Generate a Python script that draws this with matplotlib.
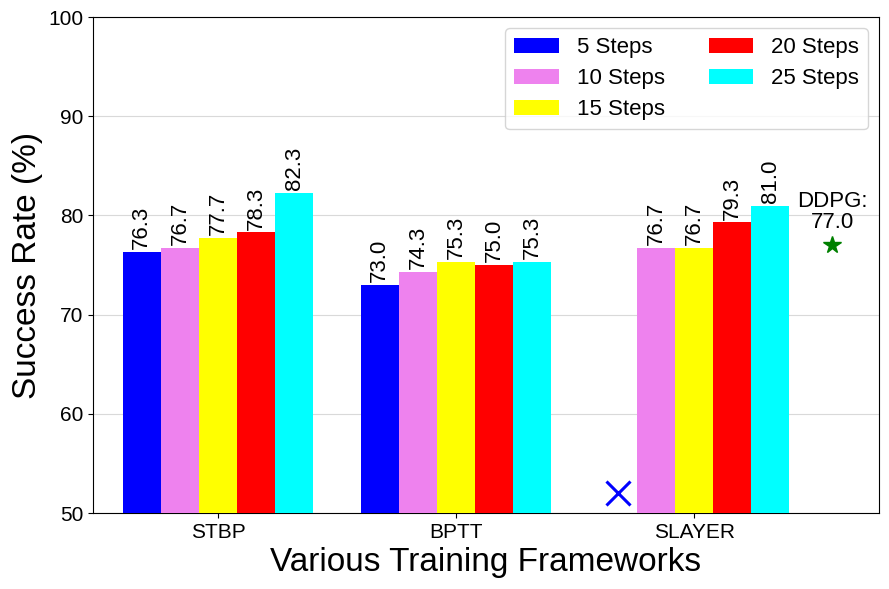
import numpy as np
import matplotlib
matplotlib.use('Agg')
import matplotlib.pyplot as plt

plt.rcParams['font.family'] = ['Liberation Sans', 'DejaVu Sans']

frameworks = ['STBP', 'BPTT', 'SLAYER']
series_labels = ['5 Steps', '10 Steps', '15 Steps', '20 Steps', '25 Steps']
colors = ['blue', 'violet', 'yellow', 'red', 'cyan']
# NaN = no result (SLAYER at 5 steps)
rates = [
	[76.3, 73.0, np.nan],
	[76.7, 74.3, 76.7],
	[77.7, 75.3, 76.7],
	[78.3, 75.0, 79.3],
	[82.3, 75.3, 81.0],
]
ddpg_rate = 77.0
missing_marker_y = 52

fig = plt.figure(figsize=(8.89, 5.89), dpi=100)
ax = fig.add_axes([0.1046, 0.129, 0.8842, 0.842])

x = np.arange(len(frameworks))
width = 0.16

for i in range(len(series_labels)):
	offs = x + (i - 2) * width
	vals = np.array(rates[i])
	ax.bar(offs, vals, width, color=colors[i], label=series_labels[i], zorder=3)
	for xx, v in zip(offs, vals):
		if np.isnan(v):
			ax.plot(xx, missing_marker_y, marker='x', color=colors[i], markersize=17,
					markeredgewidth=2.2, zorder=4)
		else:
			ax.annotate('%.1f' % v, (xx, v), xytext=(0, 2), textcoords='offset points',
						ha='center', va='bottom', rotation=90, fontsize=16)

ddpg_x = x[-1] + 0.58
ax.plot(ddpg_x, ddpg_rate, marker='*', color='green', markersize=13, zorder=4)
ax.annotate('DDPG:\n%.1f' % ddpg_rate, (ddpg_x, ddpg_rate), xytext=(0, 9),
			textcoords='offset points', ha='center', va='bottom', fontsize=16,
			linespacing=1.0)

ax.set_ylim(50, 100)
ax.set_xlim(-0.525, 2.777)
ax.set_xticks(x)
ax.set_xticklabels(frameworks)
ax.tick_params(axis='both', labelsize=15)
ax.yaxis.grid(True, color='#d9d9d9', zorder=0)
ax.set_axisbelow(True)
ax.set_xlabel('Various Training Frameworks', fontsize=24)
ax.set_ylabel('Success Rate (%)', fontsize=24)
ax.legend(loc='upper right', ncol=2, fontsize=16, handlelength=2.0,
		  handletextpad=0.8, columnspacing=2.0, labelspacing=0.45)

plt.savefig('out.png', dpi=100)
plt.close('all')
